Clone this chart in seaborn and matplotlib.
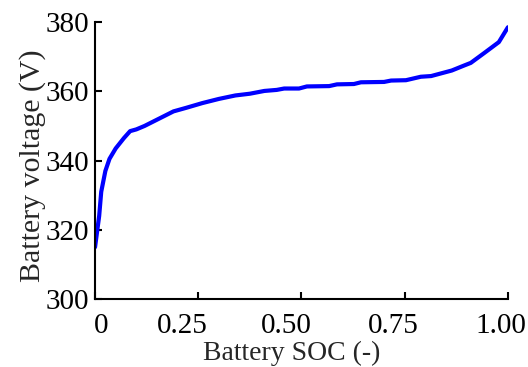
import numpy as np
import pandas as pd
import matplotlib
matplotlib.use("Agg")
import matplotlib.pyplot as plt
import matplotlib.transforms as mtransforms
import seaborn as sns

# Curve
soc = [0.0, 0.005, 0.01, 0.015, 0.025, 0.035, 0.05, 0.07, 0.085, 0.1, 0.12,
       0.15, 0.17, 0.19, 0.22, 0.26, 0.3, 0.34, 0.375, 0.41, 0.44, 0.458,
       0.494, 0.513, 0.567, 0.586, 0.627, 0.644, 0.7, 0.717, 0.753, 0.789,
       0.814, 0.864, 0.893, 0.91, 0.942, 0.978, 1.0]
voltage = [315.0, 319.5, 324.0, 331.0, 337.0, 340.5, 343.5, 346.5, 348.5, 349.0, 350.0,
           351.8, 353.0, 354.2, 355.2, 356.6, 357.8, 358.8, 359.3, 360.1, 360.4, 360.8,
           360.8, 361.4, 361.5, 362.0, 362.1, 362.6, 362.7, 363.1, 363.2, 364.2,
           364.4, 366.0, 367.4, 368.2, 371.0, 374.2, 378.5]

x_ticks = [0, 0.25, 0.5, 0.75, 1.0]
x_tick_labels = ["0", "0.25", "0.50", "0.75", "1.00"]
y_ticks = [300, 320, 340, 360, 380]

sns.set_style("ticks")
plt.rcParams["font.family"] = ["Liberation Serif", "DejaVu Serif"]

df = pd.DataFrame({"SOC": soc, "Voltage": voltage})

fig = plt.figure(figsize=(5.28, 3.67), dpi=100)
ax = fig.add_axes([0.18, 0.185, 0.782, 0.755])
sns.lineplot(data=df, x="SOC", y="Voltage", ax=ax, color="#0000ff", linewidth=3)

ax.set_xlim(0, 1.0)
ax.set_ylim(300, 380)
ax.set_xticks(x_ticks)
ax.set_xticklabels(x_tick_labels)
ax.set_yticks(y_ticks)
ax.tick_params(direction="in", length=5, width=1.5, labelsize=21, colors="black")
ax.tick_params(axis="x", pad=10)
ax.tick_params(axis="y", pad=4)
for side in ["left", "bottom"]:
    ax.spines[side].set_linewidth(1.5)
    ax.spines[side].set_color("black")
sns.despine(ax=ax)

# the reference labels sit a little off their ticks
label_shift_px = [6, -16, -15, -11, -7]
for lab, dx in zip(ax.get_xticklabels(), label_shift_px):
    off = mtransforms.ScaledTranslation(dx / 100, 0, fig.dpi_scale_trans)
    lab.set_transform(lab.get_transform() + off)

ax.set_xlabel("Battery SOC (-)", fontsize=20, labelpad=1)
ax.xaxis.label.set_x(0.476)
ax.set_ylabel("Battery voltage (V)", fontsize=21.5, labelpad=0)
ax.yaxis.label.set_y(0.48)

fig.savefig("out.png", dpi=100)
